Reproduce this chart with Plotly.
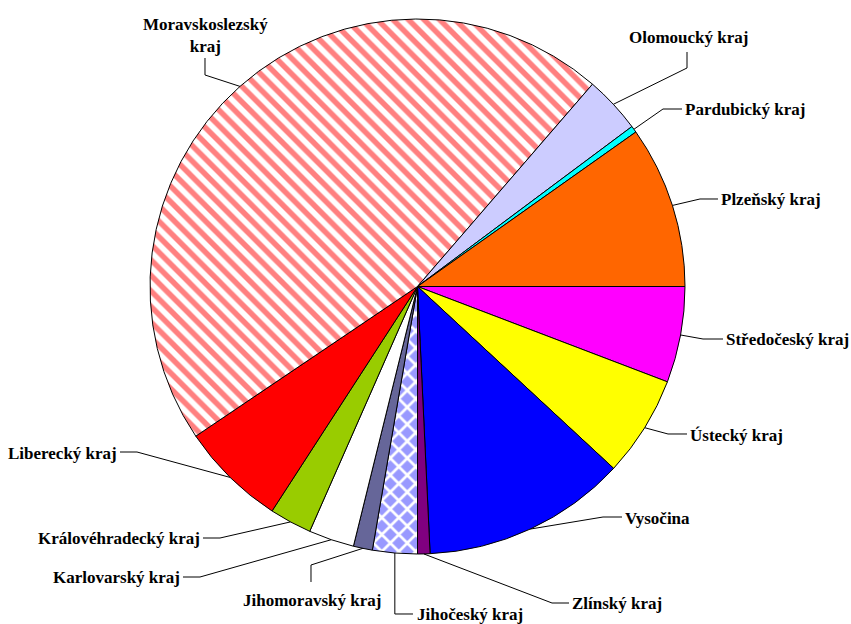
import math
import plotly.graph_objects as go

# ---------------- data ----------------
regions = ["Středočeský kraj", "Ústecký kraj", "Vysočina", "Zlínský kraj", "Jihočeský kraj",
           "Jihomoravský kraj", "Karlovarský kraj", "Královéhradecký kraj", "Liberecký kraj",
           "Moravskoslezský kraj", "Olomoucký kraj", "Pardubický kraj", "Plzeňský kraj"]
values = [5.8, 6.1, 12.35, 0.75, 2.7, 1.15, 2.75, 2.55, 6.4, 45.8, 3.45, 0.4, 9.8]
label_texts = ["Středočeský kraj", "Ústecký kraj", "Vysočina", "Zlínský kraj", "Jihočeský kraj",
               "Jihomoravský kraj", "Karlovarský kraj", "Královéhradecký kraj", "Liberecký kraj",
               "Moravskoslezský<br>kraj", "Olomoucký kraj", "Pardubický kraj", "Plzeňský kraj"]

# ---------------- styles ----------------
colors = ["#FF00FF", "#FFFF00", "#0000FF", "#800080", "#9999FF", "#666699", "#FFFFFF",
          "#99CC00", "#FF0000", "#FFFFFF", "#CCCCFF", "#00FFFF", "#FF6600"]
pat_shape = ["", "", "", "", "x", "", "", "", "", "\\", "", "", ""]
pat_fg = ["#000000"] * 13
pat_fg[4] = "#FFFFFF"
pat_fg[9] = "#FF8080"
pat_bg = list(colors)
pat_bg[4] = "#9999FF"
pat_bg[9] = "#FFFFFF"
pat_size = [8] * 13
pat_size[4] = 12
pat_size[9] = 11
pat_sol = [0.3] * 13
pat_sol[4] = 0.4
pat_sol[9] = 0.5

W, H = 851, 624
CX, CY, R = 417.5, 286.5, 267.5

# label placement (pixels): text x, text y, xanchor, elbow points (from pie edge outward)
label_layout = {
    "Středočeský kraj": (724, 339, "left", [(703, 339), (723, 339)]),
    "Ústecký kraj": (688, 435, "left", [(668, 434), (687, 434)]),
    "Vysočina": (623, 518, "left", [(603, 517), (622, 517)]),
    "Zlínský kraj": (570, 603, "left", [(552, 603), (569, 603)]),
    "Jihočeský kraj": (415, 614, "left", [(None, 614), (413, 614)]),
    "Jihomoravský kraj": (311.5, 600, "center", [(311, 565), (311, 582)]),
    "Karlovarský kraj": (182, 577, "right", [(200, 577), (183, 577)]),
    "Královéhradecký kraj": (202, 538, "right", [(220, 538), (203, 538)]),
    "Liberecký kraj": (119, 453, "right", [(137, 452), (120, 452)]),
    "Moravskoslezský kraj": (205, 35, "center", [(205, 75), (205, 58)]),
    "Olomoucký kraj": (688.5, 37, "center", [(687, 68), (687, 52)]),
    "Pardubický kraj": (683, 109, "left", [(663, 109), (682, 109)]),
    "Plzeňský kraj": (719, 199, "left", [(700, 199), (718, 199)]),
}

font = dict(family="Liberation Serif, Times New Roman, serif", size=17, color="black")

fig = go.Figure()
fig.add_trace(go.Pie(
    labels=regions,
    values=values,
    sort=False,
    direction="clockwise",
    rotation=90,
    textinfo="none",
    showlegend=False,
    hoverinfo="label+percent",
    domain=dict(x=[(CX - R) / W, (CX + R) / W], y=[1 - (CY + R) / H, 1 - (CY - R) / H]),
    marker=dict(
        colors=colors,
        line=dict(color="black", width=1),
        pattern=dict(shape=pat_shape, fgcolor=pat_fg, bgcolor=pat_bg,
                     size=pat_size, solidity=pat_sol, fillmode="replace"),
    ),
))

total = sum(values)
cum = 0.0
shapes = []
annotations = []
for name, v, txt in zip(regions, values, label_texts):
    theta = math.radians(360.0 * (cum + v / 2.0) / total)
    cum += v
    ax_px = CX + R * math.cos(theta)
    ay_px = CY + R * math.sin(theta)
    tx, ty, xanchor, elbows = label_layout[name]
    pts = [(ax_px, ay_px)]
    for ex, ey in elbows:
        pts.append((ax_px if ex is None else ex, ey))
    path = "M " + " L ".join(f"{px / W:.5f},{1 - py / H:.5f}" for px, py in pts)
    shapes.append(dict(type="path", xref="paper", yref="paper", path=path,
                       line=dict(color="black", width=1)))
    annotations.append(dict(x=tx / W, y=1 - ty / H, xref="paper", yref="paper",
                            text=f"<b>{txt}</b>", showarrow=False, xanchor=xanchor,
                            yanchor="middle", font=font, align="center"))

fig.update_layout(
    width=W, height=H, autosize=False,
    margin=dict(l=0, r=0, t=0, b=0),
    paper_bgcolor="white", plot_bgcolor="white",
    shapes=shapes, annotations=annotations,
)

fig.write_html("out.html",
               config={"displayModeBar": False},
               post_script="document.body.style.margin='0';document.body.style.overflow='hidden';")
